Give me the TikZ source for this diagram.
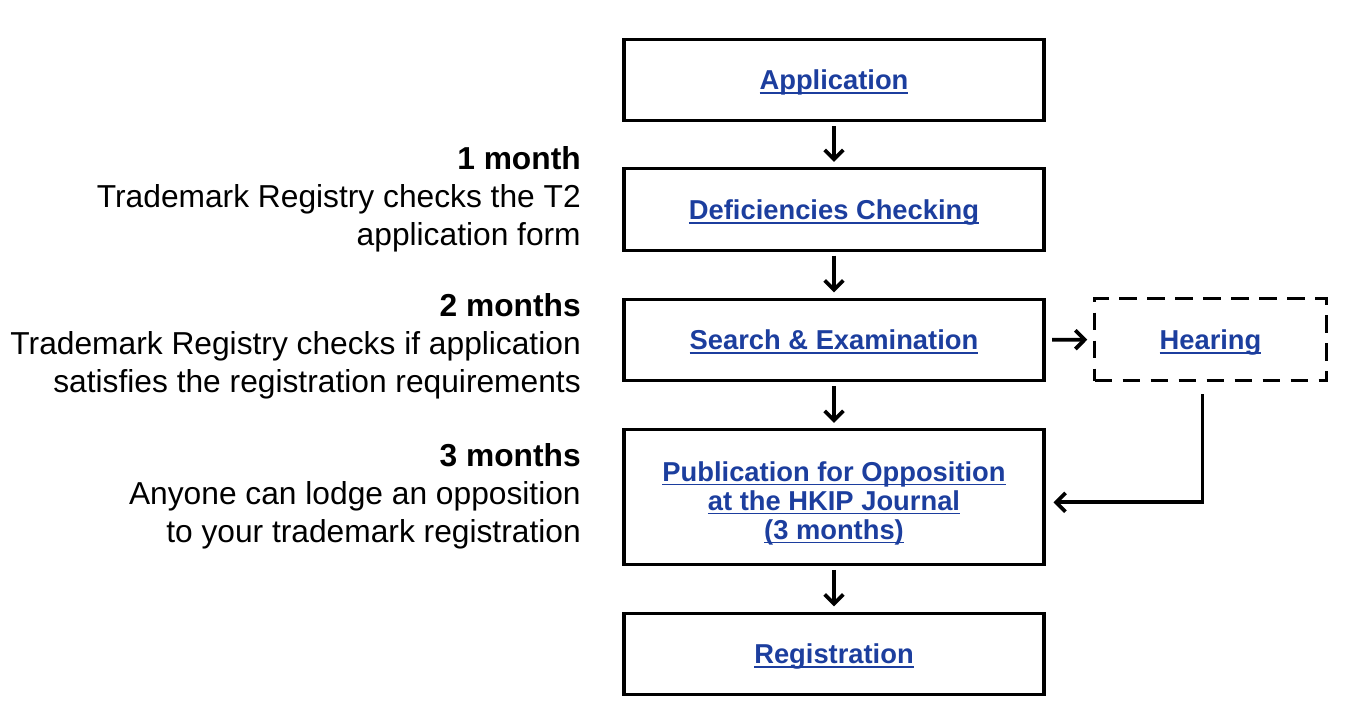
\documentclass[tikz,border=0pt]{standalone}
\usepackage{fontspec}
\setmainfont{Liberation Sans}
\usetikzlibrary{arrows.meta,positioning}
\definecolor{linkblue}{RGB}{28,62,158}
\newsavebox{\lnkbox}
\newcommand{\lnk}[1]{\sbox{\lnkbox}{#1}\rlap{\rule[-3.2pt]{\wd\lnkbox}{1.3pt}}\usebox{\lnkbox}}
\tikzset{
  stepbox/.style={draw, line width=2.3pt, minimum width=315pt, minimum height=61pt,
    align=center, inner sep=0pt, text=linkblue, text depth=0pt,
    font=\fontsize{20.5}{21.75}\selectfont\bfseries},
  hearbox/.style={stepbox, line width=2.8pt, dash pattern=on 13pt off 8pt,
    minimum width=174pt, minimum height=61.5pt},
  note/.style={align=right, inner sep=0pt, anchor=north east,
    font=\fontsize{23.8}{28.5}\selectfont},
  flow/.style={line width=2.8pt, -{Straight Barb[length=7pt,width=14pt]},
    shorten <=3pt, shorten >=4pt}
}
\begin{document}
\begin{tikzpicture}[x=0.75pt,y=-0.75pt]
\useasboundingbox (0,0) rectangle (1351,726);

% steps of the registration
\node[stepbox] (app) at (834,80) {\lnk{Application}};
\node[stepbox] (def) at (834,209.5) {\lnk{Deficiencies Checking}};
\node[stepbox] (srch) at (834,340) {\lnk{Search \& Examination}};
\node[stepbox, minimum height=101pt] (pub) at (834,497)
  {\rule{0pt}{19.5pt}\lnk{Publication for Opposition}\\\lnk{at the HKIP Journal}\\\lnk{(3 months)}};
\node[stepbox] (reg) at (834,654) {\lnk{Registration}};
\node[hearbox] (hear) at (1210.5,339.5) {\lnk{Hearing}};

% time notes
\node[note] (m1) at (581,146) {\textbf{1 month}\\Trademark Registry checks the T2\\application form};
\node[note] (m2) at (581,293) {\textbf{2 months}\\Trademark Registry checks if application\\satisfies the registration requirements};
\node[note] (m3) at (581,443) {\textbf{3 months}\\Anyone can lodge an opposition\\to your trademark registration};

% arrows
\draw[flow] (app) -- (def);
\draw[flow] (def) -- (srch);
\draw[flow] (srch) -- (pub);
\draw[flow] (pub) -- (reg);
\draw[flow, shorten <=5pt] (srch) -- (hear);
\draw[flow, shorten <=0pt, shorten >=6pt] ([xshift=-6pt,yshift=-9pt]hear.south) |- ([yshift=-4pt]pub.east);

\end{tikzpicture}
\end{document}
